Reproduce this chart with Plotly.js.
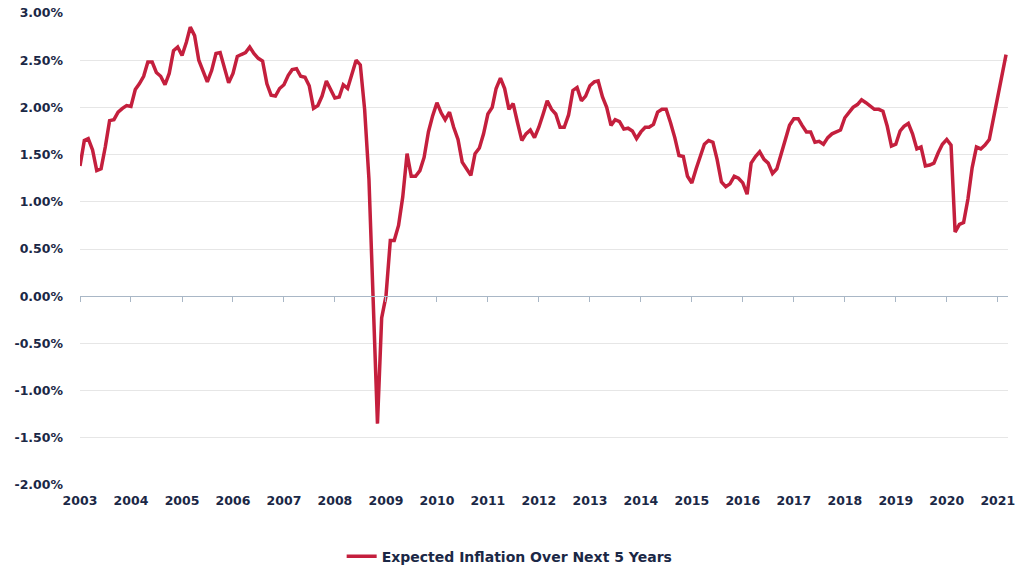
<!DOCTYPE html>
<html>
<head>
<meta charset="utf-8">
<script src="https://cdn.plot.ly/plotly-3.0.1.min.js"></script>
<style>html,body{margin:0;padding:0;background:#fff;}#chart{width:1029px;height:566px;}</style>
</head>
<body>
<div id="chart"></div>
<script>
// Monthly values (%), January..December for each year
const startYear = 2003;
const v2003 = [1.38, 1.65, 1.67, 1.55, 1.33, 1.35, 1.58, 1.86, 1.87, 1.95, 1.99, 2.02];
const v2004 = [2.01, 2.19, 2.25, 2.33, 2.48, 2.48, 2.37, 2.33, 2.24, 2.36, 2.60, 2.64];
const v2005 = [2.55, 2.69, 2.85, 2.76, 2.50, 2.37, 2.27, 2.39, 2.57, 2.58, 2.41, 2.26];
const v2006 = [2.36, 2.54, 2.56, 2.58, 2.64, 2.57, 2.52, 2.49, 2.25, 2.13, 2.12, 2.20];
const v2007 = [2.24, 2.34, 2.40, 2.41, 2.33, 2.32, 2.23, 1.99, 2.02, 2.12, 2.28, 2.20];
const v2008 = [2.10, 2.11, 2.24, 2.20, 2.34, 2.50, 2.45, 1.98, 1.24, 0.05, -1.35, -0.23];
const v2009 = [0.00, 0.59, 0.59, 0.75, 1.05, 1.51, 1.27, 1.27, 1.33, 1.47, 1.74, 1.91];
const v2010 = [2.05, 1.94, 1.87, 1.95, 1.79, 1.66, 1.42, 1.35, 1.28, 1.51, 1.57, 1.72];
const v2011 = [1.93, 2.00, 2.20, 2.31, 2.20, 1.98, 2.04, 1.84, 1.65, 1.72, 1.76, 1.68];
const v2012 = [1.79, 1.93, 2.07, 1.98, 1.93, 1.79, 1.79, 1.92, 2.18, 2.21, 2.07, 2.12];
const v2013 = [2.23, 2.27, 2.28, 2.11, 2.00, 1.81, 1.87, 1.85, 1.77, 1.78, 1.75, 1.67];
const v2014 = [1.74, 1.79, 1.79, 1.82, 1.95, 1.98, 1.98, 1.84, 1.68, 1.49, 1.48, 1.27];
const v2015 = [1.20, 1.35, 1.47, 1.61, 1.65, 1.63, 1.45, 1.21, 1.16, 1.19, 1.27, 1.25];
const v2016 = [1.20, 1.08, 1.41, 1.48, 1.53, 1.45, 1.41, 1.30, 1.35, 1.51, 1.66, 1.81];
const v2017 = [1.88, 1.88, 1.81, 1.74, 1.74, 1.63, 1.64, 1.61, 1.68, 1.72, 1.74, 1.76];
const v2018 = [1.89, 1.95, 2.00, 2.03, 2.08, 2.05, 2.02, 1.98, 1.98, 1.96, 1.80, 1.59];
const v2019 = [1.61, 1.75, 1.80, 1.83, 1.72, 1.56, 1.58, 1.38, 1.39, 1.41, 1.52, 1.61];
const v2020 = [1.66, 1.60, 0.68, 0.76, 0.78, 1.03, 1.36, 1.58, 1.56, 1.60, 1.66, 1.88];
const v2021 = [2.14, 2.34, 2.56];

const seriesName = 'Expected Inflation Over Next 5 Years';
const yTicks = [-2, -1.5, -1, -0.5, 0, 0.5, 1, 1.5, 2, 2.5, 3];
const yTickText = ['-2.00%', '-1.50%', '-1.00%', '-0.50%', '0.00%', '0.50%', '1.00%', '1.50%', '2.00%', '2.50%', '3.00%'];
const xTickYears = [2003, 2004, 2005, 2006, 2007, 2008, 2009, 2010, 2011, 2012, 2013, 2014, 2015, 2016, 2017, 2018, 2019, 2020, 2021];

const values = [].concat(v2003, v2004, v2005, v2006, v2007, v2008, v2009, v2010, v2011, v2012,
  v2013, v2014, v2015, v2016, v2017, v2018, v2019, v2020, v2021);
const dates = values.map((_, i) => {
  const y = startYear + Math.floor(i / 12);
  const m = (i % 12) + 1;
  return y + '-' + (m < 10 ? '0' + m : m) + '-01';
});
const xTickVals = xTickYears.map(y => y + '-01-01');
const xTickText = xTickYears.map(String);

const fontFam = '"DejaVu Sans", "Open Sans", sans-serif';
const fontSize = 12.5;
const txtColor = '#1b2846';
const axisGray = '#a9b7c6';
const xRange = ['2003-01-01', '2021-03-15'];

const traces = [
  {
    x: dates, y: values, type: 'scatter', mode: 'lines', name: seriesName,
    line: {color: '#c41f3d', width: 3.5},
    hoverinfo: 'skip'
  },
  {
    x: dates, y: values, type: 'scatter', mode: 'lines', xaxis: 'x2', yaxis: 'y',
    line: {color: 'rgba(0,0,0,0)', width: 0}, showlegend: false, hoverinfo: 'skip'
  }
];

const layout = {
  width: 1029, height: 566,
  margin: {l: 80, r: 21, t: 13, b: 81, autoexpand: false},
  paper_bgcolor: '#ffffff', plot_bgcolor: '#ffffff',
  font: {family: fontFam, size: fontSize, color: txtColor, weight: 700},
  showlegend: true,
  legend: {
    orientation: 'h', x: 0.463, xanchor: 'center', y: -0.152, yanchor: 'middle',
    font: {family: fontFam, size: 14, color: txtColor, weight: 700}
  },
  xaxis: {
    type: 'date', range: xRange, tickvals: xTickVals, ticktext: xTickText,
    showgrid: false, zeroline: false, showline: false, ticks: '',
    ticklabelstandoff: 6, automargin: false,
    tickfont: {family: fontFam, size: fontSize, color: txtColor, weight: 700},
    fixedrange: true
  },
  xaxis2: {
    type: 'date', range: xRange, overlaying: 'x', anchor: 'free', position: 0.4,
    tickvals: xTickVals, showticklabels: false,
    showgrid: false, zeroline: false, showline: true, linecolor: axisGray, linewidth: 1,
    ticks: 'outside', ticklen: 5, tickcolor: axisGray, tickwidth: 1,
    fixedrange: true
  },
  yaxis: {
    range: [-2, 3], tickvals: yTicks, ticktext: yTickText,
    showgrid: true, gridcolor: '#e6e6e6', gridwidth: 1,
    zeroline: false, showline: false, ticks: '',
    ticklabelstandoff: 16, automargin: false,
    tickfont: {family: fontFam, size: fontSize, color: txtColor, weight: 700},
    fixedrange: true
  }
};

Plotly.newPlot('chart', traces, layout, {displayModeBar: false, staticPlot: true});
</script>
</body>
</html>
